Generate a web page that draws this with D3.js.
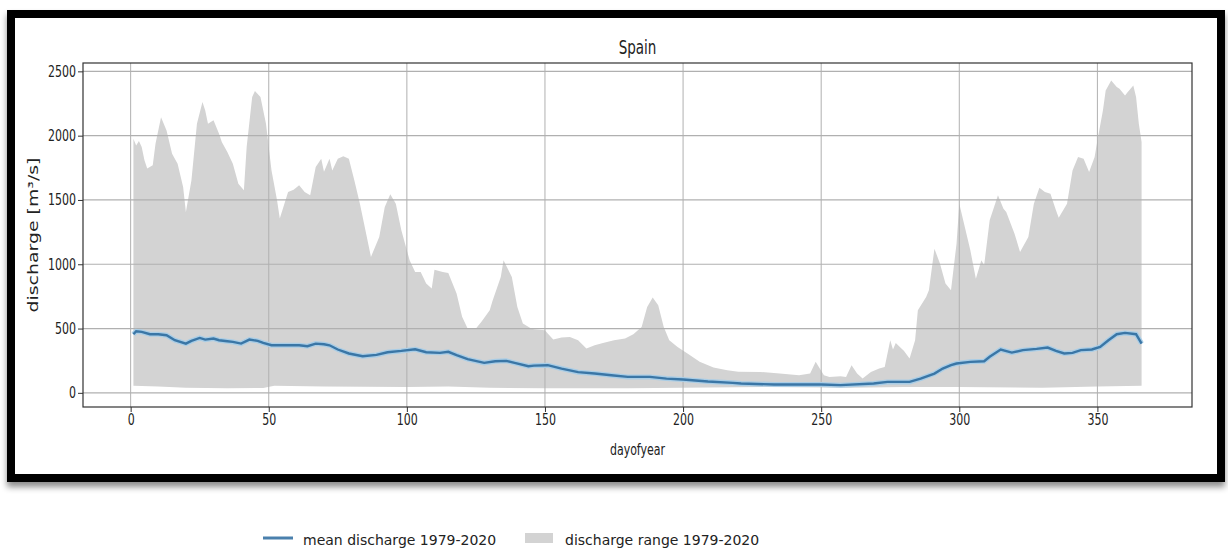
<!DOCTYPE html>
<html>
<head>
<meta charset="utf-8">
<script src="https://cdn.jsdelivr.net/npm/d3@7"></script>
<style>
  body { margin: 0; background: #fff; }
  text { font-family: "DejaVu Sans", sans-serif; }
</style>
</head>
<body>
<script>
// day of year / discharge [m3/s]
var upperDays = [1, 2, 3, 4, 5, 6, 8, 9, 11, 13, 15, 17, 19, 20, 22, 24, 26, 27, 28, 30, 32, 33, 35, 37, 39, 41, 42, 44, 45, 47, 49, 51, 53, 54, 57, 59, 61, 63, 65, 67, 69, 70, 72, 73, 75, 77, 79, 81, 83, 85, 87, 90, 92, 94, 96, 98, 101, 103, 105, 107, 109, 110, 113, 115, 118, 120, 122, 125, 127, 130, 131, 134, 135, 138, 140, 142, 145, 146, 150, 151, 153, 156, 159, 162, 165, 168, 171, 175, 179, 182, 185, 187, 189, 191, 193, 195, 198, 202, 206, 211, 216, 220, 228, 235, 242, 246, 248, 251, 253, 257, 259, 261, 263, 265, 268, 271, 273, 275, 276, 277, 280, 282, 284, 285, 288, 289, 291, 293, 295, 297, 299, 300, 302, 304, 306, 308, 309, 311, 314, 316, 317, 320, 322, 325, 327, 329, 331, 333, 335, 336, 339, 341, 343, 345, 347, 349, 350, 352, 353, 355, 357, 358, 360, 361, 363, 364, 365, 366];
var upperQ = [1976, 1924, 1958, 1911, 1808, 1745, 1769, 1937, 2144, 2041, 1860, 1782, 1600, 1406, 1652, 2093, 2261, 2196, 2093, 2119, 2015, 1950, 1873, 1782, 1627, 1575, 1911, 2300, 2347, 2300, 2093, 1730, 1497, 1355, 1562, 1580, 1614, 1562, 1536, 1756, 1821, 1720, 1821, 1730, 1821, 1839, 1821, 1652, 1471, 1264, 1057, 1212, 1445, 1544, 1471, 1264, 1031, 940, 940, 850, 811, 958, 940, 932, 772, 591, 500, 500, 552, 642, 715, 901, 1031, 901, 668, 539, 500, 495, 487, 461, 414, 430, 435, 409, 344, 370, 388, 409, 422, 456, 513, 668, 741, 681, 513, 409, 357, 300, 241, 197, 176, 165, 163, 150, 137, 150, 241, 137, 124, 130, 124, 215, 150, 111, 163, 189, 202, 409, 337, 388, 326, 267, 409, 642, 746, 798, 1121, 1005, 850, 798, 1160, 1471, 1290, 1108, 888, 1031, 992, 1342, 1536, 1432, 1406, 1238, 1096, 1212, 1471, 1595, 1562, 1549, 1419, 1362, 1471, 1730, 1834, 1821, 1717, 1834, 1963, 2196, 2352, 2429, 2378, 2365, 2313, 2339, 2391, 2300, 2093, 1950];

var lowerDays = [1, 10, 20, 35, 48, 52, 70, 100, 115, 130, 150, 180, 200, 230, 260, 280, 300, 330, 350, 366];
var lowerQ = [55, 50, 40, 35, 38, 55, 50, 45, 50, 40, 35, 35, 40, 45, 40, 45, 45, 40, 50, 55];

var meanDays = [1, 2, 4, 7, 10, 13, 16, 20, 22, 25, 27, 30, 32, 35, 37, 40, 43, 46, 48, 51, 56, 61, 64, 67, 70, 72, 75, 79, 84, 89, 93, 98, 103, 107, 112, 115, 118, 122, 128, 132, 136, 139, 144, 146, 151, 156, 162, 168, 174, 180, 188, 194, 200, 209, 218, 221, 233, 250, 257, 269, 274, 282, 286, 291, 294, 297, 299, 304, 309, 311, 315, 319, 323, 328, 332, 335, 338, 341, 344, 348, 351, 354, 357, 360, 364, 366];
var meanQ = [456, 479, 474, 456, 456, 448, 409, 383, 404, 427, 414, 422, 409, 401, 396, 383, 414, 404, 388, 370, 370, 370, 363, 383, 378, 370, 337, 306, 285, 295, 316, 326, 339, 316, 311, 319, 293, 262, 233, 246, 249, 233, 207, 212, 215, 189, 161, 150, 137, 124, 124, 111, 104, 88, 78, 73, 65, 65, 60, 73, 85, 85, 111, 150, 189, 215, 228, 241, 246, 280, 337, 313, 332, 342, 352, 326, 306, 311, 332, 337, 357, 409, 456, 466, 456, 383];

var xTicks = [0, 50, 100, 150, 200, 250, 300, 350];
var yTicks = [0, 500, 1000, 1500, 2000, 2500];

var W = 1228, H = 559;
var svg = d3.select("body").append("svg").attr("width", W).attr("height", H);

var defs = svg.append("defs");
var f = defs.append("filter").attr("id", "shadow").attr("x", "-5%").attr("y", "-5%").attr("width", "110%").attr("height", "115%");
f.append("feDropShadow").attr("dx", 0).attr("dy", 5).attr("stdDeviation", 3).attr("flood-color", "#000").attr("flood-opacity", 0.45);

// frame round the screenshot
svg.append("rect")
  .attr("x", 11).attr("y", 14).attr("width", 1210).attr("height", 464)
  .attr("fill", "#fff").attr("stroke", "#000").attr("stroke-width", 8)
  .attr("filter", "url(#shadow)");

var pLeft = 83, pRight = 1192, pTop = 63, pBottom = 407;
var x = d3.scaleLinear().domain([-17.25, 384.25]).range([pLeft, pRight]);
var y = d3.scaleLinear().domain([-110, 2565]).range([pBottom, pTop]);

var upper = upperDays.map(function(d, i) { return [d, upperQ[i]]; });
var lower = lowerDays.map(function(d, i) { return [d, lowerQ[i]]; });
var mean = meanDays.map(function(d, i) { return [d, meanQ[i]]; });

var line = d3.line().x(function(d) { return x(d[0]); }).y(function(d) { return y(d[1]); });

// range band: upper edge forward, lower edge back
svg.append("path")
  .attr("d", line(upper.concat(lower.slice().reverse())) + "Z")
  .attr("fill", "#d3d3d3");

// grid
svg.append("g").selectAll("line").data(xTicks).enter().append("line")
  .attr("x1", function(d) { return x(d); }).attr("x2", function(d) { return x(d); })
  .attr("y1", pTop).attr("y2", pBottom)
  .attr("stroke", "#b0b0b0").attr("stroke-width", 1);
svg.append("g").selectAll("line").data(yTicks).enter().append("line")
  .attr("x1", pLeft).attr("x2", pRight)
  .attr("y1", function(d) { return y(d); }).attr("y2", function(d) { return y(d); })
  .attr("stroke", "#b0b0b0").attr("stroke-width", 1.2);

// mean line
svg.append("path").attr("d", line(mean))
  .attr("fill", "none").attr("stroke", "#a9cde6").attr("stroke-width", 5);
svg.append("path").attr("d", line(mean))
  .attr("fill", "none").attr("stroke", "#3a76a6").attr("stroke-width", 2.4);

// axes box
svg.append("rect").attr("x", pLeft).attr("y", pTop).attr("width", pRight - pLeft).attr("height", pBottom - pTop)
  .attr("fill", "none").attr("stroke", "#333").attr("stroke-width", 1.2);

var gy = svg.append("g").attr("transform", "translate(" + pLeft + ",0)")
  .call(d3.axisLeft(y).tickValues(yTicks).tickSize(5).tickPadding(2).tickFormat(d3.format("d")));
var gx = svg.append("g").attr("transform", "translate(0," + pBottom + ")")
  .call(d3.axisBottom(x).tickValues(xTicks).tickSize(5).tickFormat(d3.format("d")));
[gx, gy].forEach(function(g) {
  g.select(".domain").remove();
  g.selectAll(".tick line").attr("stroke", "#333");
  g.selectAll(".tick text").attr("fill", "#222").style("font-size", "11px").style("font-family", "DejaVu Sans");
});
gy.selectAll(".tick text").attr("transform", "scale(1,1.4)");
gx.selectAll(".tick text").attr("y", 12.6).attr("dy", 0).attr("transform", "scale(1,1.4)");

// titles
svg.append("text").attr("transform", "translate(637.5,54) scale(1,1.4)")
  .attr("text-anchor", "middle").attr("fill", "#222").style("font-size", "13.5px").text("Spain");
svg.append("text").attr("transform", "translate(637.5,455) scale(1,1.4)")
  .attr("text-anchor", "middle").attr("fill", "#222").style("font-size", "11px").text("dayofyear");
svg.append("text").attr("transform", "translate(38,235) rotate(-90) scale(1.4,1)")
  .attr("text-anchor", "middle").attr("fill", "#222").style("font-size", "13.5px").text("discharge [m³/s]");

// legend
var leg = svg.append("g");
leg.append("line").attr("x1", 263).attr("x2", 293).attr("y1", 538).attr("y2", 538)
  .attr("stroke", "#4a80ad").attr("stroke-width", 3);
leg.append("text").attr("x", 303).attr("y", 545).attr("fill", "#222").style("font-size", "14px")
  .text("mean discharge 1979-2020");
leg.append("rect").attr("x", 525).attr("y", 533).attr("width", 28).attr("height", 10).attr("fill", "#d3d3d3");
leg.append("text").attr("x", 565).attr("y", 545).attr("fill", "#222").style("font-size", "14px")
  .text("discharge range 1979-2020");
</script>
</body>
</html>
